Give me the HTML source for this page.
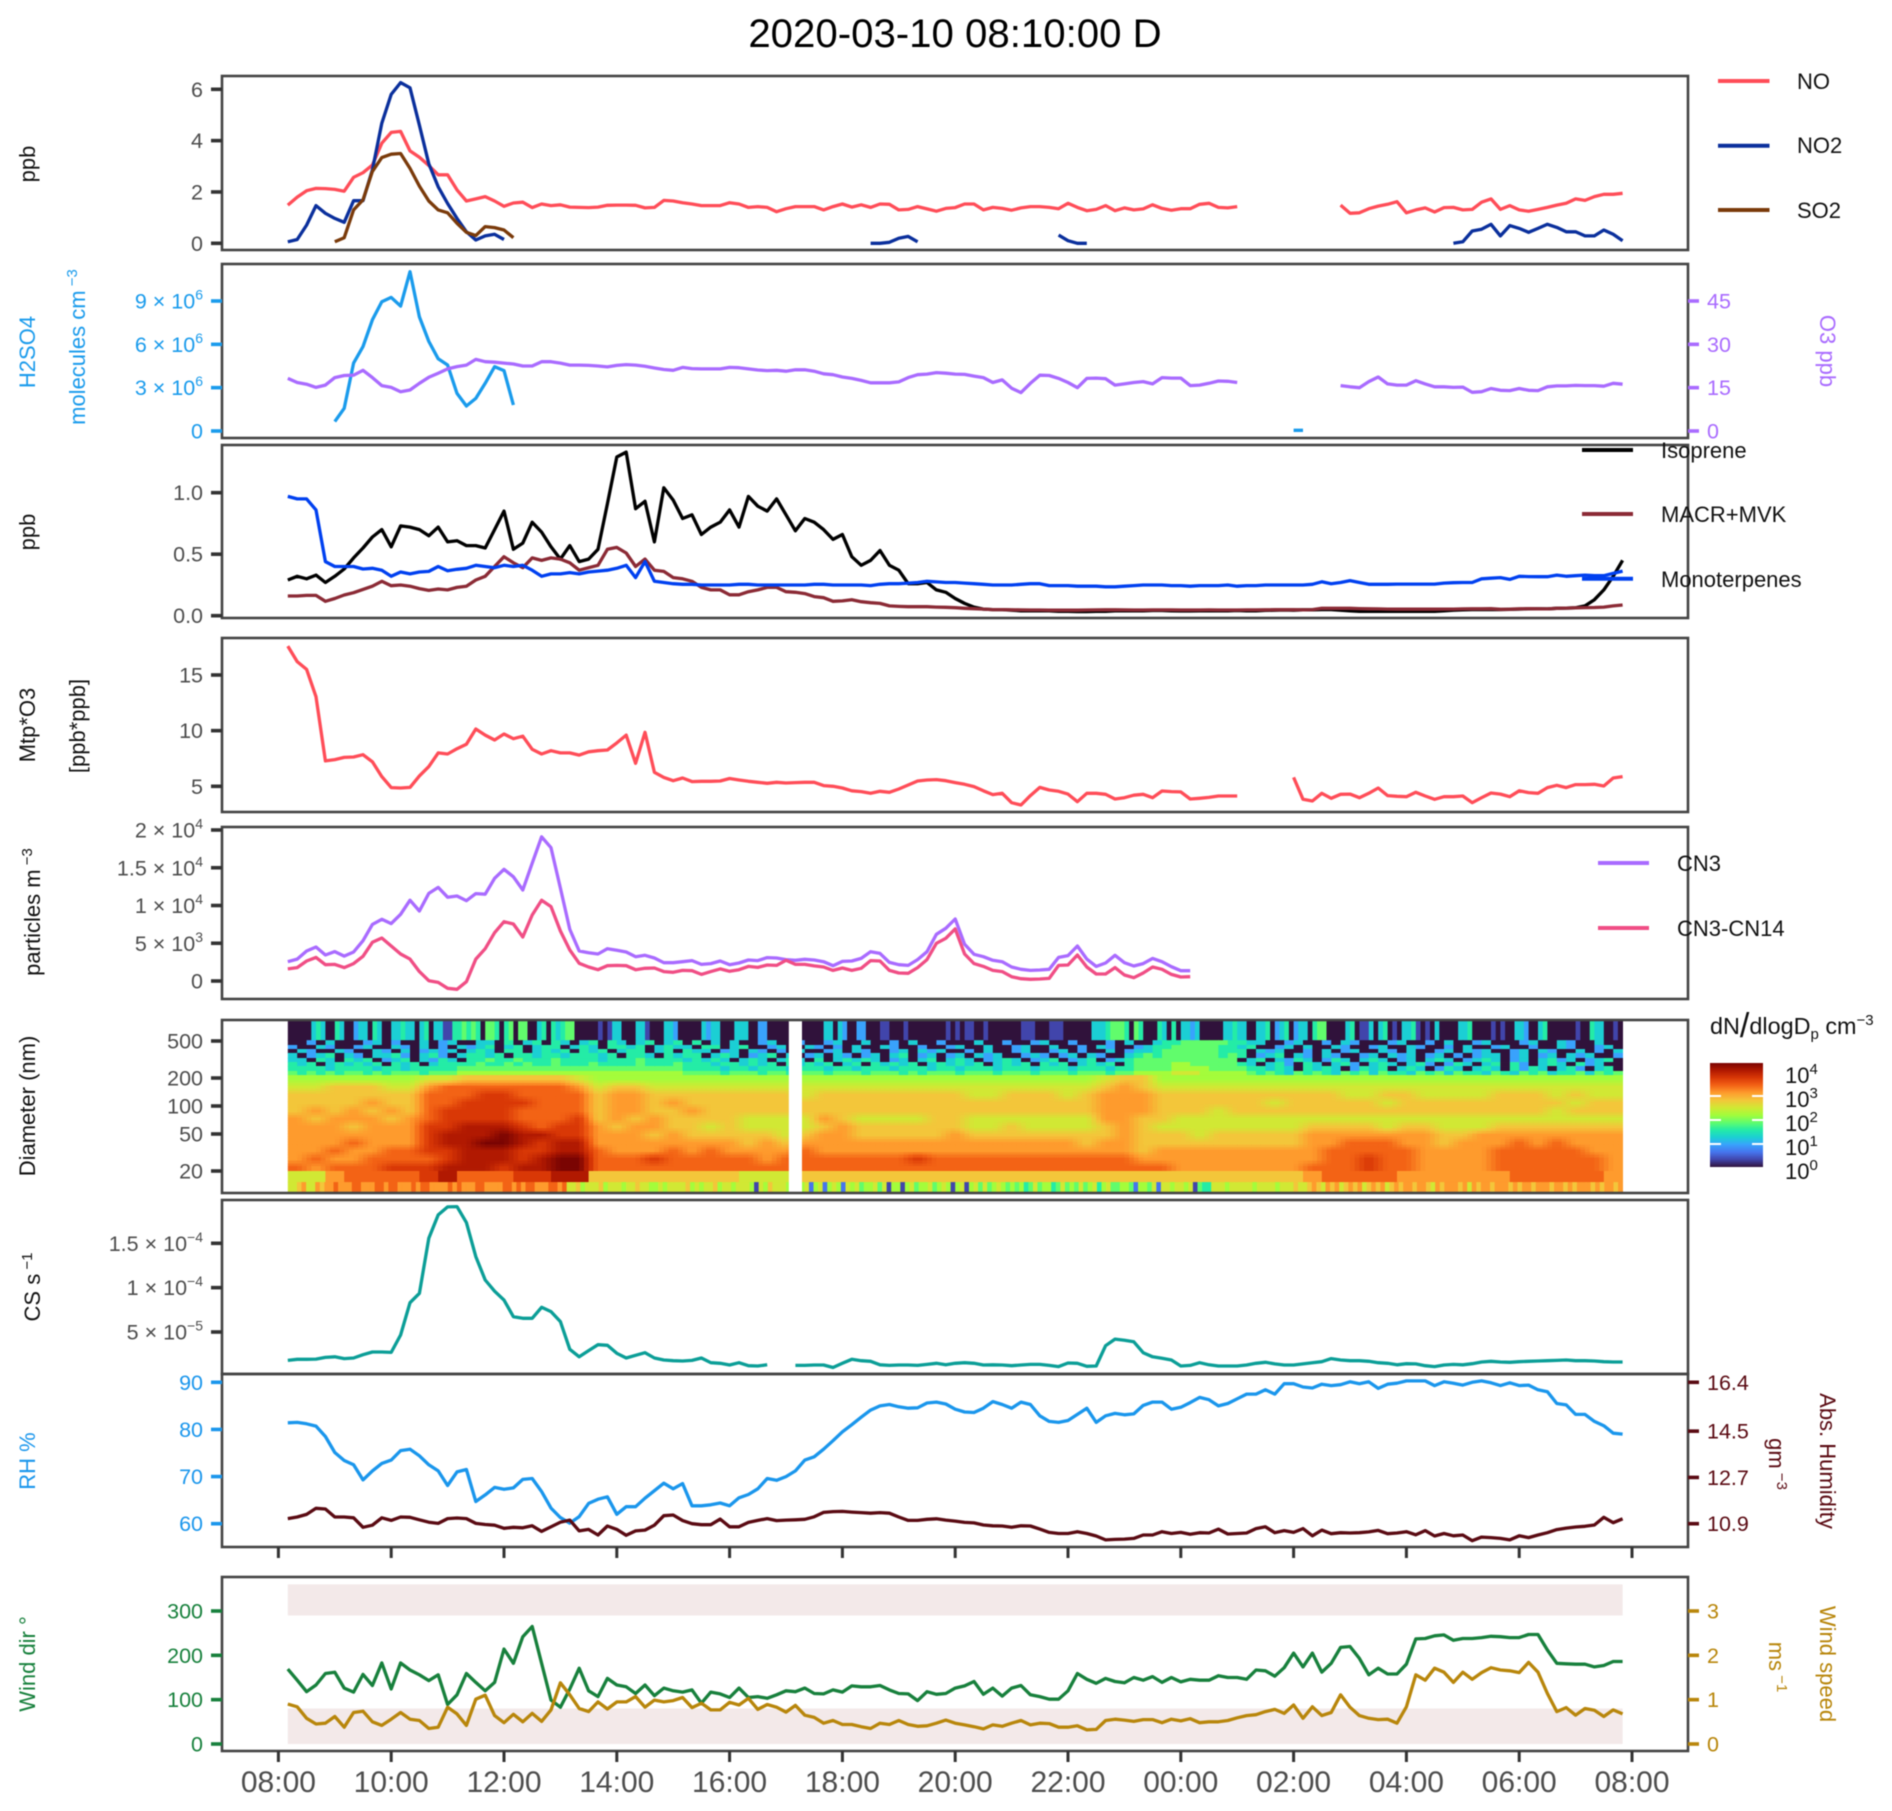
<!DOCTYPE html>
<html lang="en">
<head>
<meta charset="utf-8">
<title>2020-03-10 08:10:00 D</title>
<style>
html,body{margin:0;padding:0;background:#fff;width:1892px;height:1811px;overflow:hidden}
svg{display:block;filter:blur(.45px)}
text{font-family:"Liberation Sans",sans-serif;font-size:22px}
.frame{fill:none;stroke:#444;stroke-width:2.6}
.rl{text-anchor:middle}
</style>
</head>
<body>
<svg id="chart" xmlns="http://www.w3.org/2000/svg" width="1892" height="1811" viewBox="0 0 1892 1811">
<defs>
<linearGradient id="colorbar-gradient" x1="0" y1="1" x2="0" y2="0"></linearGradient>
</defs>
<text x="955" y="47" text-anchor="middle" style="font-size:40.2px" fill="#000">2020-03-10 08:10:00 D</text>

<g id="bands"></g>
<g id="heat"></g>
<g id="lines"></g>

<rect class="frame" x="222" y="76" width="1466" height="174"/>
<rect class="frame" x="222" y="264" width="1466" height="174"/>
<rect class="frame" x="222" y="445" width="1466" height="173"/>
<rect class="frame" x="222" y="638" width="1466" height="174"/>
<rect class="frame" x="222" y="827" width="1466" height="172"/>
<rect class="frame" x="222" y="1020" width="1466" height="173"/>
<rect class="frame" x="222" y="1200" width="1466" height="174"/>
<rect class="frame" x="222" y="1374" width="1466" height="173"/>
<rect class="frame" x="222" y="1577" width="1466" height="174"/>

<g id="ticks"></g>

<g fill="#111">
<text class="rl" transform="translate(35,164) rotate(-90)">ppb</text>
<text class="rl" fill="#1a9bec" transform="translate(35,352) rotate(-90)">H2SO4</text>
<text class="rl" fill="#1a9bec" transform="translate(85,347) rotate(-90)">molecules cm<tspan dy="-8" style="font-size:15px"> −3</tspan></text>
<text class="rl" transform="translate(35,532) rotate(-90)">ppb</text>
<text class="rl" transform="translate(35,725) rotate(-90)">Mtp*O3</text>
<text class="rl" transform="translate(85,726) rotate(-90)">[ppb*ppb]</text>
<text class="rl" transform="translate(40,912) rotate(-90)">particles m<tspan dy="-8" style="font-size:15px"> −3</tspan></text>
<text class="rl" transform="translate(35,1106) rotate(-90)">Diameter (nm)</text>
<text class="rl" transform="translate(40,1287) rotate(-90)">CS s<tspan dy="-8" style="font-size:15px"> −1</tspan></text>
<text class="rl" fill="#1a96ec" transform="translate(35,1461) rotate(-90)">RH %</text>
<text class="rl" fill="#17803c" transform="translate(35,1664) rotate(-90)">Wind dir °</text>
<text class="rl" fill="#a96bff" transform="translate(1820,351) rotate(90)">O3 ppb</text>
<text class="rl" fill="#5a0a12" transform="translate(1820,1461) rotate(90)">Abs. Humidity</text>
<text class="rl" fill="#5a0a12" transform="translate(1769,1464) rotate(90)">gm<tspan dy="-8" style="font-size:15px"> −3</tspan></text>
<text class="rl" fill="#b8860b" transform="translate(1820,1664) rotate(90)">Wind speed</text>
<text class="rl" fill="#b8860b" transform="translate(1769,1667) rotate(90)">ms<tspan dy="-8" style="font-size:15px"> −1</tspan></text>
</g>

<g stroke-width="4">
<line x1="1718" x2="1769.5" y1="81" y2="81" stroke="#ff4d58"/>
<line x1="1718" x2="1769.5" y1="145.7" y2="145.7" stroke="#0a2f9c"/>
<line x1="1718" x2="1769.5" y1="210" y2="210" stroke="#7a3a0a"/>
<line x1="1582" x2="1633" y1="450" y2="450" stroke="#000"/>
<line x1="1582" x2="1633" y1="514" y2="514" stroke="#8b2a35"/>
<line x1="1582" x2="1633" y1="578.7" y2="578.7" stroke="#0040f0"/>
<line x1="1598" x2="1649" y1="863" y2="863" stroke="#a96bff"/>
<line x1="1598" x2="1649" y1="928" y2="928" stroke="#f04e85"/>
</g>
<g fill="#111">
<text x="1797" y="89">NO</text>
<text x="1797" y="153">NO2</text>
<text x="1797" y="218">SO2</text>
<text x="1661" y="458">Isoprene</text>
<text x="1661" y="522">MACR+MVK</text>
<text x="1661" y="587">Monoterpenes</text>
<text x="1677" y="871">CN3</text>
<text x="1677" y="936">CN3-CN14</text>
<text x="1710" y="1034" style="font-size:23.4px">dN<tspan style="font-size:34px" dy="3">/</tspan><tspan dy="-3">dlogD</tspan><tspan dy="5" style="font-size:15px">p</tspan><tspan dy="-5"> cm</tspan><tspan dy="-9" style="font-size:15px">−3</tspan></text>
</g>
<g id="colorbar"></g>
</svg>

<script>
const _ = null;

/* ---------- panel 1: NOx, ppb ---------- */
const noValues = [1.49,1.8,2.05,2.14,2.13,2.1,2.03,2.57,2.75,3.05,
3.9,4.32,4.36,3.6,3.35,3.03,2.67,2.67,2.08,1.65,
1.73,1.82,1.65,1.44,1.57,1.6,1.39,1.53,1.47,1.5,
1.41,1.4,1.39,1.41,1.48,1.49,1.49,1.48,1.38,1.4,
1.67,1.65,1.58,1.53,1.47,1.47,1.47,1.58,1.53,1.4,
1.43,1.4,1.23,1.35,1.43,1.43,1.43,1.3,1.43,1.53,
1.41,1.5,1.4,1.53,1.52,1.3,1.32,1.43,1.34,1.25,
1.36,1.39,1.53,1.53,1.3,1.4,1.36,1.29,1.38,1.43,
1.43,1.4,1.35,1.56,1.4,1.27,1.32,1.47,1.27,1.38,
1.3,1.34,1.5,1.36,1.29,1.35,1.35,1.52,1.56,1.4,
1.38,1.43,_,_,_,_,_,_,_,_,_,_,
1.49,1.17,1.19,1.35,1.45,1.52,1.62,1.19,
1.3,1.38,1.22,1.39,1.4,1.3,1.32,1.6,1.73,1.32,
1.47,1.3,1.25,1.32,1.4,1.49,1.56,1.73,1.67,1.82,
1.91,1.91,1.95];
const no2Values = [.06,.15,.71,1.47,1.17,.97,.82,1.66,1.66,2.86,
4.68,5.8,6.26,6.06,4.6,3.1,2.2,1.55,.97,.45,.13,.29,.35,.15,
_,_,_,_,_,_,_,_,_,_,_,_,_,_,_,_,_,_,_,_,_,_,_,_,_,_,_,_,_,_,_,_,_,_,_,_,_,_,
0,0,.04,.2,.27,.06,
_,_,_,_,_,_,_,_,_,_,_,_,_,_,
.32,.1,0,0,
_,_,_,_,_,_,_,_,_,_,_,_,_,_,_,_,_,_,_,_,_,_,_,_,_,_,_,_,_,_,_,_,_,_,_,_,_,_,
0,.06,.48,.55,.74,.29,.69,.58,.43,.58,.74,.62,.45,.45,.29,.29,.52,.35,.1];
const so2Values = [_,_,_,_,_,.06,.22,1.3,1.69,2.8,3.34,3.47,3.5,2.92,2.23,1.65,1.3,1.19,.78,.43,.3,.65,.61,.52,.22];

/* ---------- panel 2: H2SO4 (x 10^6 cm-3) and O3 (ppb) ---------- */
const h2so4Values = [_,_,_,_,_,.65,1.57,4.7,5.84,7.7,8.95,9.25,8.65,11.03,7.9,6.2,5,4.57,2.6,1.73,2.26,3.3,4.45,4.18,1.8,
_,_,_,_,_,_,_,_,_,_,_,_,_,_,_,_,_,_,_,_,_,_,_,_,_,_,_,_,_,_,_,_,_,_,_,_,_,_,_,_,
_,_,_,_,_,_,_,_,_,_,_,_,_,_,_,_,_,_,_,_,_,_,_,_,_,_,_,_,_,_,_,_,_,_,_,_,_,_,_,_,_,_,
.05,.05];
const o3Values = [18.2,16.8,16.2,15.1,15.9,18.5,19.2,19.3,21,18.5,
15.7,15.1,13.6,14.2,16.5,18.6,20,21.5,22.3,22.8,
24.8,24,23.8,23.5,23.2,22.5,22.5,24,24,23.5,
22.8,22.8,22.7,22.5,22.2,22.7,23,22.8,22.4,21.8,
21.3,21,22,21.6,21.5,21.5,21.5,22,21.9,21.5,
21.1,20.9,21,20.7,21.2,21.2,20.7,19.8,19.5,18.7,
18.2,17.5,16.7,16.7,16.7,17,18.5,19.5,19.7,20.2,
20,19.7,19.6,19,18.5,16.8,17.7,14.8,13.3,16.5,
19.3,19.2,18.2,16.8,15,18.2,18.3,18.1,15.9,16.3,
16.8,17.1,16.3,18.5,18.3,18.3,15.7,15.9,16.5,17.3,
17.2,16.8,_,_,_,_,_,_,_,_,_,_,
15.7,15.3,15,17.1,18.7,16.3,15.9,15.9,17.4,16.3,
15.3,15.3,15.1,15.2,13.4,13.6,14.7,14.1,14,14.7,
14.1,14,15.3,15.6,15.6,15.8,15.7,15.7,15.5,16.5,16.2];

/* ---------- panel 3: VOCs, ppb ---------- */
const isopreneValues = [.29,.32,.3,.33,.27,.32,.38,.47,.55,.64,
.7,.56,.73,.72,.7,.65,.72,.6,.61,.57,
.57,.55,.7,.85,.54,.59,.76,.68,.56,.46,
.57,.44,.46,.54,.91,1.29,1.33,.87,.93,.6,
1.04,.94,.79,.82,.66,.72,.76,.86,.72,.97,
.89,.85,.95,.82,.69,.79,.76,.7,.62,.66,
.48,.41,.45,.53,.41,.37,.26,.26,.27,.21,
.19,.14,.1,.07,.054,.05,.05,.045,.04,.04,
.04,.04,.035,.035,.033,.033,.035,.036,.04,.04,
.04,.04,.042,.042,.04,.038,.038,.04,.04,.04,
.04,.042,.04,.04,.043,.045,.046,.045,.048,.048,
.05,.05,.045,.04,.036,.036,.036,.036,.036,.036,
.036,.036,.036,.04,.045,.048,.05,.05,.05,.05,
.052,.054,.056,.056,.055,.06,.062,.064,.08,.13,
.21,.32,.45];
const macrMvkValues = [.16,.16,.165,.165,.117,.14,.168,.187,.214,.24,
.28,.244,.25,.24,.22,.206,.217,.21,.23,.24,
.29,.32,.4,.48,.43,.39,.47,.45,.47,.46,
.43,.37,.39,.41,.54,.555,.51,.4,.46,.37,
.36,.31,.3,.28,.23,.21,.21,.17,.17,.195,
.21,.23,.23,.195,.19,.18,.155,.146,.117,.12,
.13,.114,.106,.1,.08,.076,.073,.073,.073,.07,
.068,.065,.06,.057,.054,.05,.05,.048,.047,.046,
.046,.045,.045,.045,.045,.046,.047,.048,.048,.047,
.046,.046,.047,.047,.047,.046,.046,.046,.047,.046,
.046,.046,.047,.047,.048,.049,.049,.05,.048,.05,
.06,.06,.06,.06,.058,.056,.055,.054,.053,.053,
.053,.053,.053,.054,.054,.055,.056,.056,.057,.052,
.053,.056,.057,.056,.055,.06,.062,.064,.066,.067,
.07,.08,.087];
const monoterpenesValues = [.97,.95,.95,.86,.44,.4,.4,.4,.38,.385,
.37,.32,.355,.34,.355,.36,.4,.366,.377,.385,
.41,.4,.39,.41,.4,.41,.37,.32,.34,.34,
.35,.34,.355,.363,.37,.385,.41,.31,.44,.28,
.27,.26,.255,.255,.25,.25,.25,.25,.255,.255,
.25,.25,.25,.25,.25,.25,.255,.255,.25,.25,
.25,.25,.245,.255,.26,.26,.265,.27,.28,.275,
.27,.27,.265,.26,.255,.25,.25,.25,.255,.26,
.26,.245,.245,.245,.24,.24,.24,.235,.235,.24,
.245,.25,.25,.25,.245,.245,.24,.245,.245,.245,
.25,.24,.245,.245,.25,.25,.25,.25,.25,.255,
.276,.26,.27,.285,.27,.255,.255,.255,.257,.257,
.257,.257,.257,.265,.268,.27,.27,.3,.305,.31,
.295,.32,.318,.317,.317,.33,.32,.325,.33,.325,
.325,.344,.363];

/* ---------- panel 4: Mtp*O3 ---------- */
const mtpO3Values = [17.6,16.2,15.5,13.05,7.28,7.4,7.6,7.63,7.84,7.2,
5.87,4.88,4.85,4.9,5.93,6.77,8,7.9,8.38,8.77,
10.15,9.6,9.16,9.7,9.28,9.5,8.32,7.9,8.2,8,
8,7.8,8.1,8.2,8.26,8.9,9.6,7.07,9.85,6.26,
5.8,5.5,5.75,5.42,5.45,5.45,5.48,5.7,5.57,5.45,
5.36,5.27,5.36,5.3,5.33,5.36,5.36,5.06,5,4.85,
4.6,4.52,4.37,4.55,4.46,4.76,5.12,5.48,5.57,5.6,
5.5,5.33,5.18,4.97,4.6,4.25,4.37,3.53,3.32,4.16,
4.9,4.67,4.55,4.3,3.62,4.37,4.37,4.28,3.86,3.98,
4.2,4.28,3.98,4.58,4.52,4.5,3.86,3.92,4,4.13,
4.13,4.13,_,_,_,_,_,
5.8,3.83,3.68,4.37,3.92,4.28,4.3,3.98,4.37,4.85,4.16,4.1,4.07,
4.46,4.13,3.83,4.07,4.07,4.13,3.53,3.98,4.4,4.3,4.07,4.6,
4.43,4.37,4.88,5.09,4.88,5.15,5.15,5.18,5.03,5.75,5.87];

/* ---------- panel 5: particle counts (x 10^3) ---------- */
const cn3Values = [2.56,2.9,3.97,4.5,3.44,3.9,3.3,3.84,5.34,7.5,
8.17,7.6,8.83,10.7,9.27,11.6,12.4,11.1,11.26,10.64,
11.57,11.5,13.6,14.8,13.8,12.05,15.6,19.1,17.66,12.3,
6.84,3.97,3.75,3.58,4.28,4.06,3.84,3.22,3.4,3.05,
2.43,2.43,2.56,2.7,2.2,2.3,2.65,2.16,2.38,2.78,
2.7,3.1,3.05,2.83,2.74,
2.87,2.78,2.56,2.03,2.6,2.65,3,3.88,3.66,2.47,
2.16,2.07,2.83,3.88,6.18,6.98,8.21,4.86,3.53,3.22,
2.74,2.56,1.85,1.55,1.41,1.46,1.55,3.13,3.36,4.64,
2.9,1.94,2.38,3.4,2.43,1.99,2.3,3,2.56,1.9,1.37,1.37];
const cn3Cn14Values = [1.6,1.77,2.65,3.13,2.16,2.2,1.77,2.3,3.27,5.12,
5.7,4.64,3.58,2.9,1.24,.04,-.18,-.97,-1.1,-.09,
2.9,4.28,6.4,7.86,7.55,5.83,8.74,10.7,9.85,6.62,
4.1,2.34,1.85,1.5,2.03,2.07,2.03,1.5,1.68,1.72,
1.24,1.15,1.41,1.37,.88,1.24,1.6,1.28,1.5,1.94,
1.8,2.12,2.07,2.74,2.2,
2.2,2,1.85,1.41,1.72,1.41,1.68,2.7,2.65,1.41,
1.06,1.02,1.77,2.83,5,5.65,6.9,3.58,2.3,1.94,
1.41,1.24,.57,.31,.22,.26,.35,2.07,2.12,3.44,
1.85,.93,.93,1.77,.8,.44,1.06,1.85,1.55,.88,.53,.57];

/* ---------- panel 6: size distribution heat map ----------
   diameter bin edges (nm), top to bottom, and one string per bin.
   Each character is a level on the colour scale; a row may have its own time resolution. */
const diameterEdges = [820,510,453,410,372,328,297,269,238,215,177,145,119,97.5,80,66,54,44,36,30,24,20,15.2,11.9];
const heatRows = [
"0000045400540034405400445440450441155656"+"5066505606600450545660000010144000441000"+"44300000434400044400330000"+"00000000440430033"+"00011000100000000"+"1010110010000000"+"111000111000000444"+"56665065000"+"540504434"+"0000044544"+"004450345"+"034405660000"+"450114045"+"01044510104"+"0000445000"+"0101004430045"+"0000001005440010",
"0030400034030040340044050450540450540450450504040034003003400400304003000400300340030003040045566666554400340030430003400304003400034004300400",
"3004300340043040304345045045504540554504544055045003400430304004300300340040034004003043003455666665545003404004300340043003040034003004300340",
"0430043004304034340454055045450545045504505440340430304003404300340434003040034003403004034456666665550434003040340043040034043400340430040304",
"4034504304453045304554505545545554505540545504540345040340430340450340340434003430340430045656666665650345043043003404340340303440340340434003",
"4405405450345043540556556555655554555655554545404540454050454540340450454034540345034503456666666666604504354035404540340454034540340453403450",
"5450454545054504555565565655655565555655565554554545054545045054545045454504545054504545056666776666654045305404530454045303540450530454053400",
"5555455554554555556666666666666666666666665555455455545554554555455545545554555455545554556666777766665545405454035450454035404540535404530450",
"6565656656566656667777777777777777777777776666566656656665666566656566656665666566656665667777888777776565465654656465546564655465465645564656",
"7777777"+"889999998"+"77777777777"+"7777777777777777"+"899"+"77777777"+"7777777"+"77"+"77777777",
"8899988"+"abbbbbbba"+"89988888888"+"8888888888888888"+"9a9"+"88888888"+"8888888"+"88"+"88888888",
"9999999"+"bbbccbbbb"+"9aa99999999"+"8999999998899989"+"aaa"+"99999999"+"9988998"+"88"+"89998988",
"9999a99"+"bbccccbbb"+"9aa9a999999"+"9999999999999999"+"aaa"+"99999989"+"9999899"+"99"+"99999899",
"9a9a9a9"+"bccccbbbb"+"9aa99a99999"+"9999999999999999"+"aaa"+"99989999"+"9999999"+"99"+"99998999",
"a9aaa9a"+"bccccbbbc"+"9a9a9999888"+"8a98888998888888"+"aa9"+"98888888"+"8888888"+"88"+"88888888",
"aaa9aaa"+"ccdddcbcc"+"a9aa9989888"+"89a9999998898888"+"9a9"+"88888888"+"9999899"+"88"+"89999999",
"aaaaaaa"+"cdddeddcc"+"aaa9a999998"+"9aa99999a9999999"+"9a9"+"99899999"+"aaaaaaa"+"99"+"aaaaaaaa",
"aaabaaa"+"cddeedcdd"+"aaaaaaaa9a9"+"aaaaaaaaaaaaaaa9"+"aa9"+"99999999"+"aabbbaa"+"9a"+"aababaaa",
"aabaabb"+"ccdddccdd"+"baaababaaaa"+"baaaaaaaaaaaaaaa"+"aa9"+"aaaaaaaa"+"abbbbba"+"aa"+"abbbbbaa",
"abaabbb"+"bcdddcdee"+"bbbcbbbbbab"+"bbbbbbcbbbbbbbbb"+"bba"+"aaaaaaaa"+"abbcbba"+"aa"+"abbbbbba",
"babbbcc"+"cdddcddee"+"bbbbbbbbbbb"+"bbbbbbbbbbbbbbbb"+"bbb"+"baaaaaaa"+"bbbcbba"+"aa"+"abbbbbba",
"88abbbb"+"cdbbbccdd"+"99999999888"+"9999999999999999"+"999"+"99999999"+"abbbbaa"+"aa"+"aabbbbba",
"889a88"+"a9aabaaabbaaabbabbaaababbaaaababaaabbaaaabbababbaaabbab"+"88978889788878898877878888978788978878887"+"1"+"879"+"888"+"78878"+"2"+"78"+"2"+"787"+"2"+"878677868"+"1"+"77"+"1"+"7867786787"+"1"+"78"+"1"+"7868678767"+"6756867756867686785786"+"6776"+"2"+"7768"+"2"+"8878878"+"1"+"655"+"88878888878888788898"+"89a98a9a89a9a89a9a89"+"a9aa9aa98a9aaa9a8a9aa9aaa9a9aa9aaa9aa9a9aaa9a9aa9a"
];
const heatLevelCodes = "0123456789abcde";
const missingScanMinutes = [1023,1037];
const colourScaleStops = ["#30123b","#4145ab","#4675ed","#39a2fc","#1bcfd4","#24eca6","#61fc6c","#a4fc3b","#d1e834","#f3c63a","#fe9b2d","#f36315","#d93806","#b11901","#7a0402"];
const colourbarExponents = [0,1,2,3,4];

/* ---------- panel 7: condensation sink (x 10^-5) ---------- */
const csValues = [1.8,1.92,1.92,1.95,2.14,2.2,2,2.07,2.44,2.74,
2.74,2.7,4.66,8.3,9.36,15.56,18.2,19.1,19.14,17.33,
13.5,10.86,9.6,8.6,6.73,6.54,6.54,7.78,7.3,6.17,
3.05,2.2,2.9,3.57,3.5,2.6,2.07,2.37,2.67,2.07,
1.84,1.77,1.73,1.8,2.07,1.54,1.47,1.28,1.54,1.2,
1.17,1.3,_,_,
1.24,1.24,1.28,1.28,1,1.47,1.92,1.77,1.7,1.3,1.24,1.28,1.28,1.24,1.35,1.47,
1.3,1.47,1.54,1.47,1.28,1.3,1.28,1.2,1.28,1.35,
1.35,1.24,1.1,1.5,1.47,1.13,1.17,3.46,4.2,4.06,
3.9,2.67,2.2,2.03,1.84,1.17,1.24,1.54,1.3,1.17,
1.17,1.17,1.28,1.47,1.58,1.4,1.28,1.28,1.4,1.54,
1.65,2,1.84,1.77,1.77,1.7,1.54,1.47,1.3,1.43,
1.4,1.2,1.1,1.28,1.35,1.3,1.43,1.62,1.7,1.62,
1.58,1.65,1.7,1.73,1.77,1.8,1.84,1.77,1.77,1.73,
1.65,1.62,1.62];

/* ---------- panel 8: RH (%) and absolute humidity ---------- */
const rhValues = [81.4,81.5,81.2,80.7,78.5,75.1,73.4,72.5,69.3,71.2,
72.8,73.5,75.5,75.8,74.4,72.5,71.2,68.1,71,71.5,
64.7,66.1,67.7,67.3,67.6,69.4,69.6,66.8,63.3,61.3,
60.1,61.5,64.3,65.2,65.7,62,63.6,63.6,65.4,67,
68.6,67.4,68.5,63.8,63.8,64,64.4,63.8,65.5,66.2,
67.4,69.6,69.2,70,71.2,73.5,74.2,75.8,77.6,79.5,
81,82.6,84.1,85,85.3,84.8,84.5,84.6,85.6,85.8,
85.4,84.3,83.7,83.6,84.5,85.9,85.3,84.5,85.8,85.3,
82.9,81.7,81.5,81.9,83.2,84.5,81.5,82.9,83.4,83.1,
83.3,85.1,85.8,85.8,84.3,84.7,85.7,86.8,86.3,85,
85.5,86.5,87.5,87.5,88.4,87.5,89.7,89.7,89,88.8,
89.6,89.3,89.5,90.1,89.7,90.1,88.7,89.6,89.8,90.3,
90.3,90.3,89.3,90.1,89.8,89.4,90,90.3,89.9,89.3,
89.9,89.3,89.4,88.4,88,85.5,85.2,83.2,83.2,81.7,
80.8,79.2,79];
const absHumidityValues = [11.1,11.16,11.26,11.5,11.47,11.16,11.16,11.13,10.76,10.84,
11.13,11.03,11.16,11.15,11.05,10.96,10.91,11.1,11.12,11.1,
10.91,10.87,10.84,10.72,10.76,10.74,10.82,10.6,10.78,10.96,
11.04,10.62,10.68,10.46,10.81,10.68,10.45,10.62,10.65,10.84,
11.21,11.24,11.02,10.9,10.86,10.86,11.08,10.78,10.78,10.95,
11.03,11.1,11.02,11.04,11.05,11.07,11.17,11.34,11.37,11.38,
11.35,11.33,11.31,11.33,11.31,11.16,11.03,11.03,11.07,11.09,
11.04,11,10.95,10.93,10.85,10.82,10.81,10.76,10.82,10.81,
10.69,10.56,10.52,10.52,10.59,10.52,10.42,10.27,10.29,10.3,
10.33,10.46,10.46,10.59,10.52,10.56,10.49,10.55,10.54,10.69,
10.5,10.52,10.54,10.71,10.78,10.55,10.63,10.56,10.71,10.43,
10.65,10.51,10.55,10.54,10.55,10.58,10.64,10.51,10.54,10.59,
10.47,10.63,10.42,10.52,10.43,10.46,10.24,10.38,10.36,10.33,
10.27,10.43,10.36,10.46,10.55,10.67,10.73,10.77,10.8,10.85,
11.15,10.94,11.09];

/* ---------- panel 9: wind ---------- */
const windDirValues = [169,144,118,133,159,162,126,117,157,132,
183,124,183,167,156,143,156,89,111,159,
139,120,139,214,182,242,265,182,99,83,
124,171,120,107,148,133,129,114,133,109,
126,120,117,122,92,117,113,105,126,105,
107,103,111,120,118,126,114,113,122,117,
131,129,129,132,122,114,113,98,118,112,
114,126,131,141,112,126,108,126,132,111,
107,101,101,120,159,146,137,148,141,138,
150,144,152,139,150,140,146,144,144,154,
150,150,146,167,165,153,172,205,174,205,
162,182,218,220,193,156,171,158,158,180,
237,238,244,246,234,238,238,240,243,242,
240,240,247,247,212,182,181,180,180,174,
177,186,186];
const windSpeedValues = [.9,.84,.58,.45,.47,.62,.38,.71,.74,.5,
.42,.56,.71,.56,.53,.35,.38,.83,.68,.42,
1.01,1.1,.64,.48,.67,.5,.69,.51,.77,1.38,
1.11,.8,.73,.95,.79,.95,.95,1.07,.83,.99,
.95,.98,1.05,.82,.92,.77,.77,.94,.88,1.03,
.78,.89,.83,.72,.87,.65,.6,.47,.53,.44,
.44,.39,.35,.47,.44,.53,.44,.4,.41,.47,
.54,.47,.43,.39,.34,.43,.4,.47,.53,.43,
.47,.46,.38,.38,.41,.32,.33,.53,.56,.54,
.51,.55,.55,.48,.56,.52,.57,.48,.5,.5,
.53,.59,.64,.66,.73,.78,.69,.88,.58,.84,
.64,.71,1.11,.83,.64,.58,.55,.56,.47,.84,
1.56,1.44,1.71,1.62,1.39,1.62,1.46,1.61,1.72,1.67,
1.65,1.61,1.84,1.62,1.14,.73,.82,.65,.8,.76,
.62,.77,.68];
const windSectorBands = [[290,360],[0,80]];

/* ---------- tick definitions ---------- */
const hourTickMinutes = [480,600,720,840,960,1080,1200,1320,1440,1560,1680,1800,1920];
const hourTickLabels = ["08:00","10:00","12:00","14:00","16:00","18:00","20:00","22:00","00:00","02:00","04:00","06:00","08:00"];
const noxTicks = [0,2,4,6];
const h2so4Ticks = [0,3,6,9];
const h2so4TickLabels = [["0",""],["3 × 10","6"],["6 × 10","6"],["9 × 10","6"]];
const o3Ticks = [0,15,30,45];
const vocTicks = [0,.5,1];
const vocTickLabels = [["0.0",""],["0.5",""],["1.0",""]];
const mtpTicks = [5,10,15];
const particleTicks = [0,5,10,15,20];
const particleTickLabels = [["0",""],["5 × 10","3"],["1 × 10","4"],["1.5 × 10","4"],["2 × 10","4"]];
const diameterTicks = [20,50,100,200,500];
const csTicks = [5,10,15];
const csTickLabels = [["5 × 10","−5"],["1 × 10","−4"],["1.5 × 10","−4"]];
const rhTicks = [60,70,80,90];
const absHumidityTicks = [10.9,12.7,14.5,16.4];
const windDirTicks = [0,100,200,300];
const windSpeedTicks = [0,1,2,3];

/* ---------- scales ---------- */
const SVGNS = "http://www.w3.org/2000/svg";
const firstSampleMinutes = 490, sampleStepMinutes = 10, lastSampleMinutes = 1910;
function xScale(minutes){ return 278.4 + (minutes - 480) * 0.94; }
function sampleX(i){ return xScale(firstSampleMinutes + i * sampleStepMinutes); }
function linear(v0, y0, v1, y1){ return function(v){ return y0 + (v - v0) * (y1 - y0) / (v1 - v0); }; }
const yNox = linear(0,243.3,6,89.3);
const yH2so4 = linear(0,431,9,301);
const yO3 = linear(0,431,45,301);
const yVoc = linear(0,615.7,1,492.7);
const yMtp = linear(5,786.3,15,675);
const yParticles = linear(0,981,20,830);
const yDiameter = function(nm){ return 1106 - 93 * Math.log10(nm / 100); };
const yCs = linear(5,1332,15,1243.3);
const yRh = linear(60,1523.7,90,1382.3);
const yAbsHumidity = linear(10.9,1523.7,16.4,1382.3);
const yWindDir = linear(0,1744,300,1611);
const yWindSpeed = linear(0,1744,3,1611);

/* ---------- drawing helpers ---------- */
function drawSeries(name, values, colour, yFn, width){
  let d = "", pen = false;
  values.forEach(function(v, i){
    if (v === null || v === undefined) { pen = false; return; }
    d += (pen ? "L" : "M") + sampleX(i).toFixed(1) + " " + yFn(v).toFixed(1);
    pen = true;
  });
  const el = document.createElementNS(SVGNS, "path");
  el.setAttribute("d", d);
  el.setAttribute("fill", "none");
  el.setAttribute("stroke", colour);
  el.setAttribute("stroke-width", width || 3.3);
  el.setAttribute("stroke-linejoin", "round");
  
  
  document.getElementById("lines").appendChild(el);
}
function drawYTicks(name, ticks, labels, yFn, colour, textColour, side){
  const g = document.getElementById("ticks");
  ticks.forEach(function(t, i){
    const y = yFn(t);
    const mark = document.createElementNS(SVGNS, "line");
    const x0 = side === "left" ? 211 : 1688, x1 = side === "left" ? 222 : 1699;
    mark.setAttribute("x1", x0); mark.setAttribute("x2", x1);
    mark.setAttribute("y1", y); mark.setAttribute("y2", y);
    mark.setAttribute("stroke", colour);
    mark.setAttribute("stroke-width", 3.6);
    
    
    g.appendChild(mark);
    const label = labels ? labels[i] : [String(t), ""];
    const txt = document.createElementNS(SVGNS, "text");
    txt.setAttribute("x", side === "left" ? 203 : 1707);
    txt.setAttribute("y", y + 7.5);
    txt.setAttribute("fill", textColour);
    txt.setAttribute("text-anchor", side === "left" ? "end" : "start");
    txt.style.fontSize = "21.5px";
    
    
    const base = document.createElementNS(SVGNS, "tspan");
    base.textContent = label[0];
    txt.appendChild(base);
    if (label[1]) {
      const sup = document.createElementNS(SVGNS, "tspan");
      sup.setAttribute("dy", "-9");
      sup.style.fontSize = "14px";
      sup.textContent = label[1];
      txt.appendChild(sup);
    }
    g.appendChild(txt);
  });
}
function hexToRgb(h){ return [parseInt(h.slice(1,3),16),parseInt(h.slice(3,5),16),parseInt(h.slice(5,7),16)]; }
function levelColour(level){
  const lo = Math.max(0, Math.min(colourScaleStops.length - 2, Math.floor(level)));
  const f = level - lo;
  const a = hexToRgb(colourScaleStops[lo]), b = hexToRgb(colourScaleStops[lo + 1]);
  return "rgb(" + Math.round(a[0] + (b[0] - a[0]) * f) + "," + Math.round(a[1] + (b[1] - a[1]) * f) + "," + Math.round(a[2] + (b[2] - a[2]) * f) + ")";
}

/* ---------- wind sector bands ---------- */
windSectorBands.forEach(function(b){
  const el = document.createElementNS(SVGNS, "rect");
  el.setAttribute("x", xScale(firstSampleMinutes));
  el.setAttribute("width", xScale(lastSampleMinutes) - xScale(firstSampleMinutes));
  el.setAttribute("y", yWindDir(b[1]));
  el.setAttribute("height", yWindDir(b[0]) - yWindDir(b[1]));
  el.setAttribute("fill", "#f3e9e9");
  
  
  document.getElementById("bands").appendChild(el);
});

/* ---------- heat map ---------- */
(function(){
  const heat = document.getElementById("heat");
  const span = lastSampleMinutes - firstSampleMinutes;
  const smoothFirst = 9, smoothLast = 20, subRows = 3, subCols = 4;
  function rowLevel(r, c){ return heatLevelCodes.indexOf(heatRows[r][c]); }
  function addCell(x0, x1, yTop, yBottom, fill){
    const cell = document.createElementNS(SVGNS, "rect");
    cell.setAttribute("x", x0.toFixed(2));
    cell.setAttribute("y", yTop.toFixed(2));
    cell.setAttribute("width", (x1 - x0 + 0.4).toFixed(2));
    cell.setAttribute("height", (yBottom - yTop + 0.4).toFixed(2));
    cell.setAttribute("fill", fill);
    
    
    heat.appendChild(cell);
  }
  heatRows.forEach(function(row, r){
    const yTop = yDiameter(diameterEdges[r]), yBottom = yDiameter(diameterEdges[r + 1]);
    const n = row.length;
    if (r >= smoothFirst && r <= smoothLast) {
      const m = n * subCols;
      for (let k = 0; k < subRows; k++) {
        const u = Math.max(smoothFirst, Math.min(smoothLast, r + (k + 0.5) / subRows - 0.5));
        const r0 = Math.floor(u), r1 = Math.min(smoothLast, r0 + 1), fu = u - r0;
        const yA = yTop + (yBottom - yTop) * k / subRows, yB = yTop + (yBottom - yTop) * (k + 1) / subRows;
        for (let s = 0; s < m; s++) {
          const v = Math.max(0, Math.min(n - 1, (s + 0.5) / subCols - 0.5));
          const c0 = Math.floor(v), c1 = Math.min(n - 1, c0 + 1), fv = v - c0;
          const top = rowLevel(r0, c0) * (1 - fv) + rowLevel(r0, c1) * fv;
          const bottom = rowLevel(r1, c0) * (1 - fv) + rowLevel(r1, c1) * fv;
          const level = top * (1 - fu) + bottom * fu;
          addCell(xScale(firstSampleMinutes + s * span / m), xScale(firstSampleMinutes + (s + 1) * span / m), yA, yB, levelColour(level));
        }
      }
    } else {
      for (let c = 0; c < n; c++) {
        addCell(xScale(firstSampleMinutes + c * span / n), xScale(firstSampleMinutes + (c + 1) * span / n), yTop, yBottom, colourScaleStops[rowLevel(r, c)]);
      }
    }
  });
  const gap = document.createElementNS(SVGNS, "rect");
  gap.setAttribute("x", xScale(missingScanMinutes[0]));
  gap.setAttribute("width", xScale(missingScanMinutes[1]) - xScale(missingScanMinutes[0]));
  gap.setAttribute("y", yDiameter(diameterEdges[0]) - 1);
  gap.setAttribute("height", yDiameter(diameterEdges[diameterEdges.length - 1]) - yDiameter(diameterEdges[0]) + 2);
  gap.setAttribute("fill", "#fff");
  
  
  heat.appendChild(gap);
})();

/* ---------- colour bar ---------- */
(function(){
  const grad = document.getElementById("colorbar-gradient");
  colourScaleStops.forEach(function(col, i){
    const s = document.createElementNS(SVGNS, "stop");
    s.setAttribute("offset", i / (colourScaleStops.length - 1));
    s.setAttribute("stop-color", col);
    grad.appendChild(s);
  });
  const g = document.getElementById("colorbar");
  const bar = document.createElementNS(SVGNS, "rect");
  bar.setAttribute("x", 1710); bar.setAttribute("y", 1063);
  bar.setAttribute("width", 53); bar.setAttribute("height", 104);
  bar.setAttribute("fill", "url(#colorbar-gradient)");
  
  
  g.appendChild(bar);
  const yExp = linear(0, 1168, 4, 1072);
  colourbarExponents.forEach(function(e){
    const y = yExp(e);
    if (e >= 1 && e <= 3) {
      [[1710,1721],[1752,1763]].forEach(function(p){
        const t = document.createElementNS(SVGNS, "line");
        t.setAttribute("x1", p[0]); t.setAttribute("x2", p[1]);
        t.setAttribute("y1", y); t.setAttribute("y2", y);
        t.setAttribute("stroke", "#fff");
        t.setAttribute("stroke-width", 2);
        
        
        g.appendChild(t);
      });
    }
    const txt = document.createElementNS(SVGNS, "text");
    txt.setAttribute("x", 1785);
    txt.setAttribute("y", y + 11);
    txt.setAttribute("fill", "#111");
    
    
    const base = document.createElementNS(SVGNS, "tspan");
    base.textContent = "10";
    txt.appendChild(base);
    const sup = document.createElementNS(SVGNS, "tspan");
    sup.setAttribute("dy", "-9");
    sup.style.fontSize = "15px";
    sup.textContent = String(e);
    txt.appendChild(sup);
    g.appendChild(txt);
  });
})();

/* ---------- series ---------- */
drawSeries("series-no", noValues, "#ff4d58", yNox);
drawSeries("series-no2", no2Values, "#0a2f9c", yNox);
drawSeries("series-so2", so2Values, "#7a3a0a", yNox);
drawSeries("series-h2so4", h2so4Values, "#1a9bec", yH2so4);
drawSeries("series-o3", o3Values, "#a96bff", yO3);
drawSeries("series-isoprene", isopreneValues, "#000000", yVoc);
drawSeries("series-macr-mvk", macrMvkValues, "#8b2a35", yVoc);
drawSeries("series-monoterpenes", monoterpenesValues, "#0040f0", yVoc);
drawSeries("series-mtp-o3", mtpO3Values, "#ff4d58", yMtp);
drawSeries("series-cn3", cn3Values, "#a96bff", yParticles);
drawSeries("series-cn3-cn14", cn3Cn14Values, "#f04e85", yParticles);
drawSeries("series-condensation-sink", csValues, "#0b9e97", yCs);
drawSeries("series-rh", rhValues, "#1a96ec", yRh);
drawSeries("series-abs-humidity", absHumidityValues, "#5a0a12", yAbsHumidity);
drawSeries("series-wind-dir", windDirValues, "#17803c", yWindDir);
drawSeries("series-wind-speed", windSpeedValues, "#b8860b", yWindSpeed);

/* ---------- axes ---------- */
drawYTicks("nox-y-axis", noxTicks, null, yNox, "#333", "#4d4d4d", "left");
drawYTicks("h2so4-y-axis", h2so4Ticks, h2so4TickLabels, yH2so4, "#1a9bec", "#1a9bec", "left");
drawYTicks("o3-y-axis", o3Ticks, null, yO3, "#a96bff", "#a96bff", "right");
drawYTicks("voc-y-axis", vocTicks, vocTickLabels, yVoc, "#333", "#4d4d4d", "left");
drawYTicks("mtp-o3-y-axis", mtpTicks, null, yMtp, "#333", "#4d4d4d", "left");
drawYTicks("particles-y-axis", particleTicks, particleTickLabels, yParticles, "#333", "#4d4d4d", "left");
drawYTicks("diameter-y-axis", diameterTicks, null, yDiameter, "#333", "#4d4d4d", "left");
drawYTicks("cs-y-axis", csTicks, csTickLabels, yCs, "#333", "#4d4d4d", "left");
drawYTicks("rh-y-axis", rhTicks, null, yRh, "#1a96ec", "#1a96ec", "left");
drawYTicks("abs-humidity-y-axis", absHumidityTicks, null, yAbsHumidity, "#5a0a12", "#5a0a12", "right");
drawYTicks("wind-dir-y-axis", windDirTicks, null, yWindDir, "#17803c", "#17803c", "left");
drawYTicks("wind-speed-y-axis", windSpeedTicks, null, yWindSpeed, "#b8860b", "#b8860b", "right");

(function(){
  const g = document.getElementById("ticks");
  hourTickMinutes.forEach(function(m, i){
    [1547,1751].forEach(function(base){
      const t = document.createElementNS(SVGNS, "line");
      t.setAttribute("x1", xScale(m)); t.setAttribute("x2", xScale(m));
      t.setAttribute("y1", base); t.setAttribute("y2", base + 11);
      t.setAttribute("stroke", "#333");
      t.setAttribute("stroke-width", 3);
      
      
      g.appendChild(t);
    });
    const txt = document.createElementNS(SVGNS, "text");
    txt.setAttribute("x", xScale(m));
    txt.setAttribute("y", 1792);
    txt.setAttribute("text-anchor", "middle");
    txt.setAttribute("fill", "#4d4d4d");
    txt.style.fontSize = "30px";
    txt.textContent = hourTickLabels[i];
    
    
    g.appendChild(txt);
  });
})();
</script>
</body>
</html>
